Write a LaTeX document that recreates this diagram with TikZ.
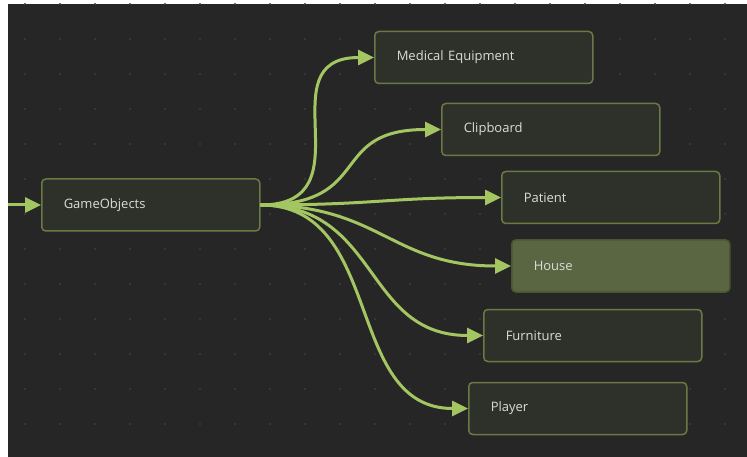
\documentclass[tikz,border=0pt]{standalone}
\usepackage{fontspec}
\setmainfont{Open Sans}
\usetikzlibrary{arrows.meta,positioning}
\definecolor{canvas}{HTML}{262626}
\definecolor{griddot}{HTML}{3C3C3C}
\definecolor{boxfill}{HTML}{2E3129}
\definecolor{boxline}{HTML}{6B7A45}
\definecolor{hilite}{HTML}{5A6642}
\definecolor{wire}{HTML}{A3C663}
\definecolor{label}{HTML}{DCDCDC}
\begin{document}
\begin{tikzpicture}[x=1pt,y=-1pt,>={Triangle[length=16pt,width=15pt]},
  font=\fontsize{13}{15}\selectfont,
  obj/.style={draw=boxline,fill=boxfill,line width=1.5pt,rounded corners=4pt,
    minimum height=52pt,text width=174pt,inner xsep=22pt,inner ysep=0pt,
    align=left,anchor=west,text=label},
  objsel/.style={obj,fill=hilite,draw=boxline!70!black},
  link/.style={->,draw=wire,line width=3pt}]
\useasboundingbox (0,0) rectangle (747,457);
% canvas + dot grid
\fill[white] (0,0) rectangle (747,457);
\fill[canvas] (8,4) rectangle (747,457);
\begin{scope}
\clip (8,4) rectangle (747,457);
\foreach \gx in {25,60,...,725}
  \foreach \gy in {4,39,...,454}
    \fill[griddot] (\gx,\gy) circle (1.2pt);
\end{scope}
% nodes
\node[obj] (go) at (41,205) {GameObjects};
\node[obj] (med) at (374,57.5) {Medical Equipment};
\node[obj] (clip) at (441,129.5) {Clipboard};
\node[obj] (pat) at (501,197.5) {Patient};
\node[objsel] (house) at (511,266) {House};
\node[obj] (furn) at (483,335.5) {Furniture};
\node[obj] (plr) at (468,408.5) {Player};
% wires
\coordinate (in) at (8,205);
\draw[link] (in) -- (go.west);
\draw[link] (go.east) .. controls +(110,0) and +(-110,0) .. (med.west);
\draw[link] (go.east) .. controls +(115,0) and +(-115,0) .. (clip.west);
\draw[link] (go.east) .. controls +(115,0) and +(-115,0) .. (pat.west);
\draw[link] (go.east) .. controls +(120,0) and +(-120,0) .. (house.west);
\draw[link] (go.east) .. controls +(120,0) and +(-120,0) .. (furn.west);
\draw[link] (go.east) .. controls +(125,0) and +(-125,0) .. (plr.west);
\end{tikzpicture}
\end{document}
